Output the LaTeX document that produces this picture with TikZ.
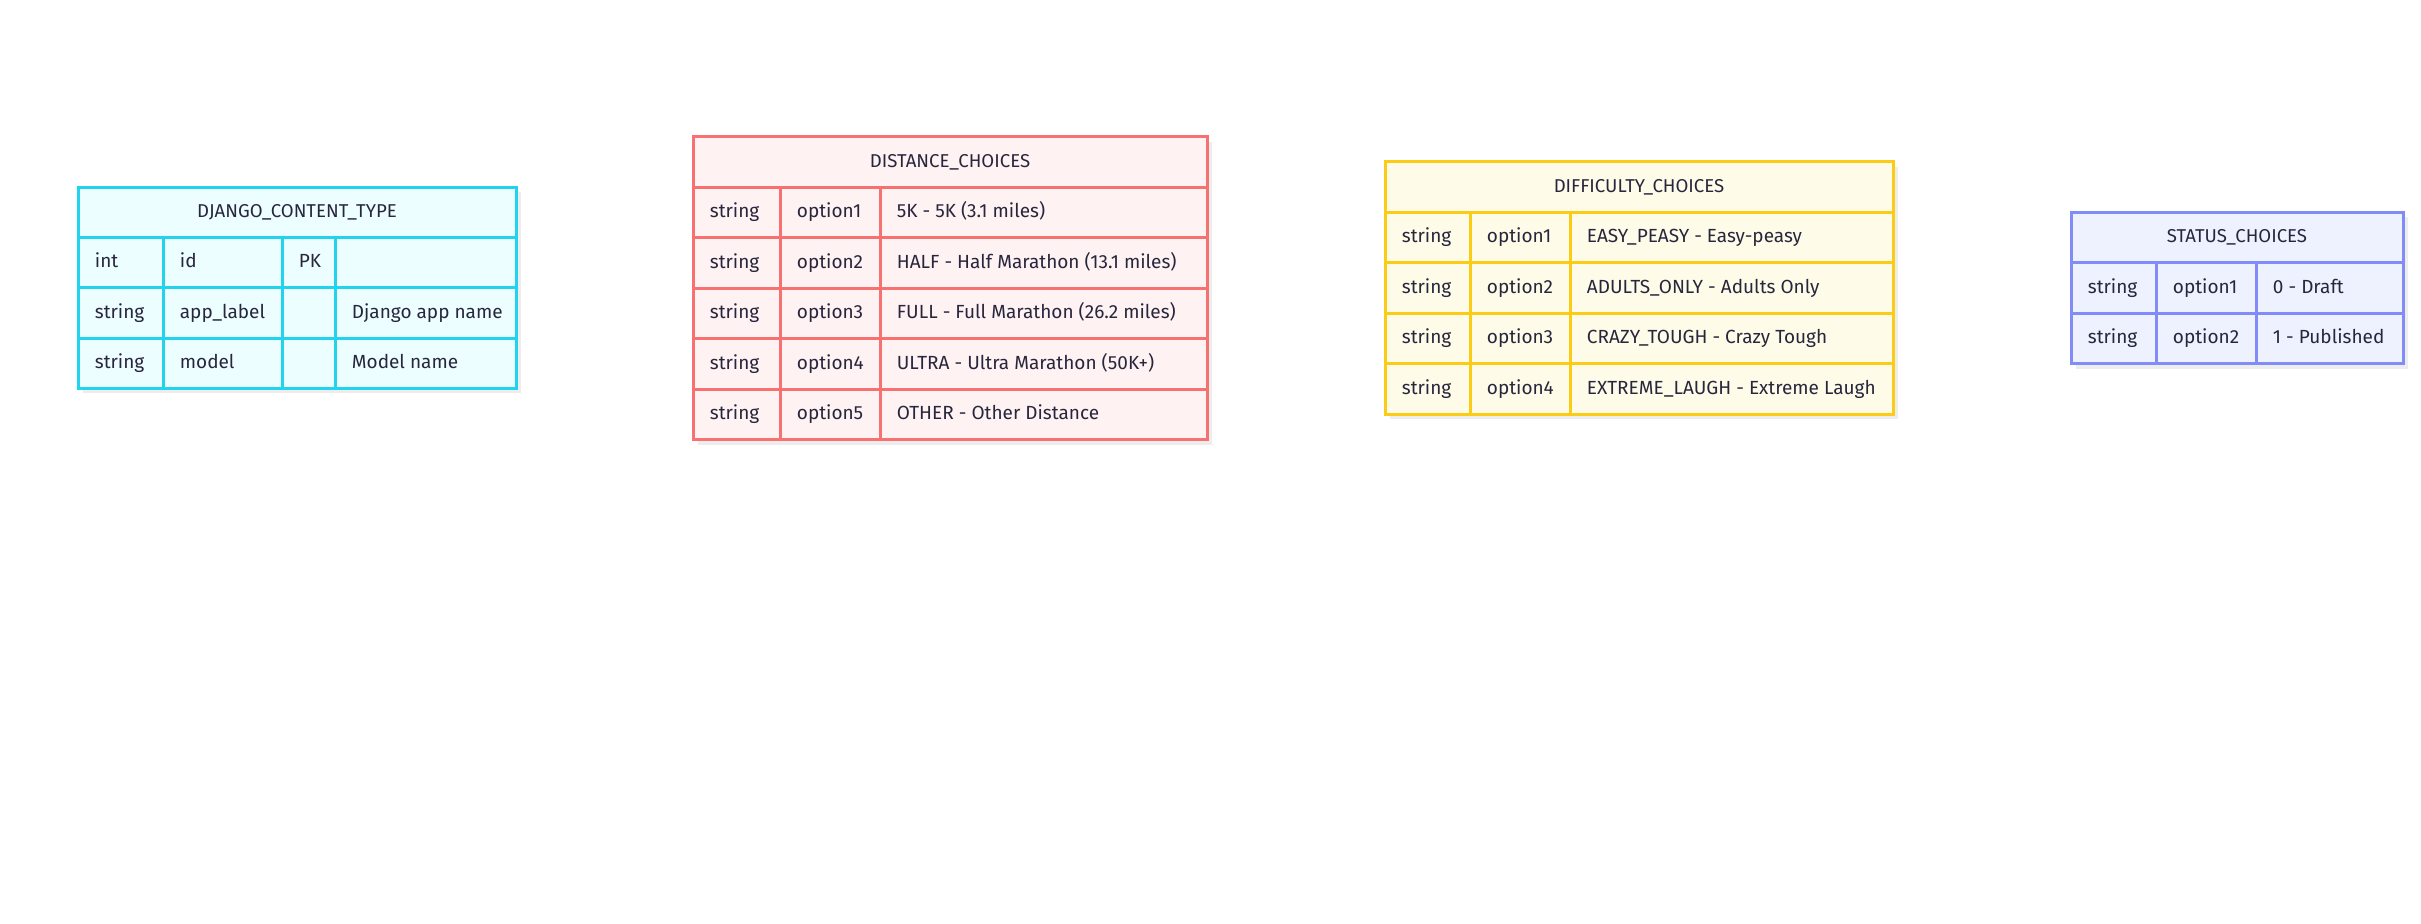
\documentclass[tikz,border=0pt]{standalone}
\usepackage{fontspec}
\setmainfont{Fira Sans}
\definecolor{txt}{HTML}{28263D}
\definecolor{shad}{HTML}{EDEDED}
\definecolor{cyS}{HTML}{22D3EE}\definecolor{cyF}{HTML}{ECFEFF}
\definecolor{rdS}{HTML}{F87171}\definecolor{rdF}{HTML}{FEF2F2}
\definecolor{ylS}{HTML}{FACC15}\definecolor{ylF}{HTML}{FEFCE8}
\definecolor{inS}{HTML}{818CF8}\definecolor{inF}{HTML}{EEF2FF}
\tikzset{
  cell/.style={inner sep=0pt, anchor=mid west, text=txt, font=\fontsize{9.5}{11}\selectfont},
  hdr/.style={inner sep=0pt, anchor=mid, text=txt, font=\fontsize{9.3}{11}\selectfont},
  grid/.style={line width=1.5pt},
  shadowbox/.style={fill=shad},
}
\begin{document}
\begin{tikzpicture}[x=0.5pt,y=-0.5pt]
\useasboundingbox[fill=white] (0,0) rectangle (2421,923);

% ---------- DJANGO_CONTENT_TYPE ----------
\fill[shadowbox] (83,192) rectangle (521,393.4);
\draw[grid, draw=cyS, fill=cyF] (78,187) rectangle (516,388.4);
\node[hdr] (dj) at (297,212.25) {DJANGO\_CONTENT\_TYPE};
\foreach \y in {237.5,287.8,338.1} \draw[grid, draw=cyS] (78,\y) -- (516,\y);
\foreach \x in {163,282,335} \draw[grid, draw=cyS] (\x,237.5) -- (\x,388.4);
\foreach [count=\i] \a/\b/\c/\d in {int/id/PK/{}, string/app\_label/{}/Django app name, string/model/{}/Model name}{
  \pgfmathsetmacro\ym{237.5+50.3*(\i-0.5)}
  \node[cell] (dj-type-\i) at (94.5,\ym) {\a};
  \node[cell] (dj-name-\i) at (179.5,\ym) {\b};
  \node[cell] (dj-key-\i) at (298.5,\ym) {\c};
  \node[cell] (dj-note-\i) at (351.5,\ym) {\d};
}

% ---------- DISTANCE_CHOICES ----------
\fill[shadowbox] (698,141.5) rectangle (1212,444.5);
\draw[grid, draw=rdS, fill=rdF] (693,136.5) rectangle (1207,439.5);
\node[hdr] (dist) at (950,161.75) {DISTANCE\_CHOICES};
\foreach \y in {187,237.5,288,338.5,389} \draw[grid, draw=rdS] (693,\y) -- (1207,\y);
\foreach \x in {780,880} \draw[grid, draw=rdS] (\x,187) -- (\x,439.5);
\foreach [count=\i] \a/\b/\c in {string/option1/5K - 5K (3.1 miles), string/option2/HALF - Half Marathon (13.1 miles), string/option3/FULL - Full Marathon (26.2 miles), string/option4/ULTRA - Ultra Marathon (50K+), string/option5/OTHER - Other Distance}{
  \pgfmathsetmacro\ym{187+50.5*(\i-0.5)}
  \node[cell] (dist-type-\i) at (709.5,\ym) {\a};
  \node[cell] (dist-name-\i) at (796.5,\ym) {\b};
  \node[cell] (dist-note-\i) at (896.5,\ym) {\c};
}

% ---------- DIFFICULTY_CHOICES ----------
\fill[shadowbox] (1390,166.7) rectangle (1898,419.2);
\draw[grid, draw=ylS, fill=ylF] (1385,161.7) rectangle (1893,414.2);
\node[hdr] (diff) at (1639,186.95) {DIFFICULTY\_CHOICES};
\foreach \y in {212.2,262.7,313.2,363.7} \draw[grid, draw=ylS] (1385,\y) -- (1893,\y);
\foreach \x in {1470,1570} \draw[grid, draw=ylS] (\x,212.2) -- (\x,414.2);
\foreach [count=\i] \a/\b/\c in {string/option1/EASY\_PEASY - Easy-peasy, string/option2/ADULTS\_ONLY - Adults Only, string/option3/CRAZY\_TOUGH - Crazy Tough, string/option4/EXTREME\_LAUGH - Extreme Laugh}{
  \pgfmathsetmacro\ym{212.2+50.5*(\i-0.5)}
  \node[cell] (diff-type-\i) at (1401.5,\ym) {\a};
  \node[cell] (diff-name-\i) at (1486.5,\ym) {\b};
  \node[cell] (diff-note-\i) at (1586.5,\ym) {\c};
}

% ---------- STATUS_CHOICES ----------
\fill[shadowbox] (2076,217) rectangle (2408,368.5);
\draw[grid, draw=inS, fill=inF] (2071,212) rectangle (2403,363.5);
\node[hdr] (stat) at (2237,237.25) {STATUS\_CHOICES};
\foreach \y in {262.5,313} \draw[grid, draw=inS] (2071,\y) -- (2403,\y);
\foreach \x in {2156,2256} \draw[grid, draw=inS] (\x,262.5) -- (\x,363.5);
\foreach [count=\i] \a/\b/\c in {string/option1/0 - Draft, string/option2/1 - Published}{
  \pgfmathsetmacro\ym{262.5+50.5*(\i-0.5)}
  \node[cell] (stat-type-\i) at (2087.5,\ym) {\a};
  \node[cell] (stat-name-\i) at (2172.5,\ym) {\b};
  \node[cell] (stat-note-\i) at (2272.5,\ym) {\c};
}
\end{tikzpicture}
\end{document}
